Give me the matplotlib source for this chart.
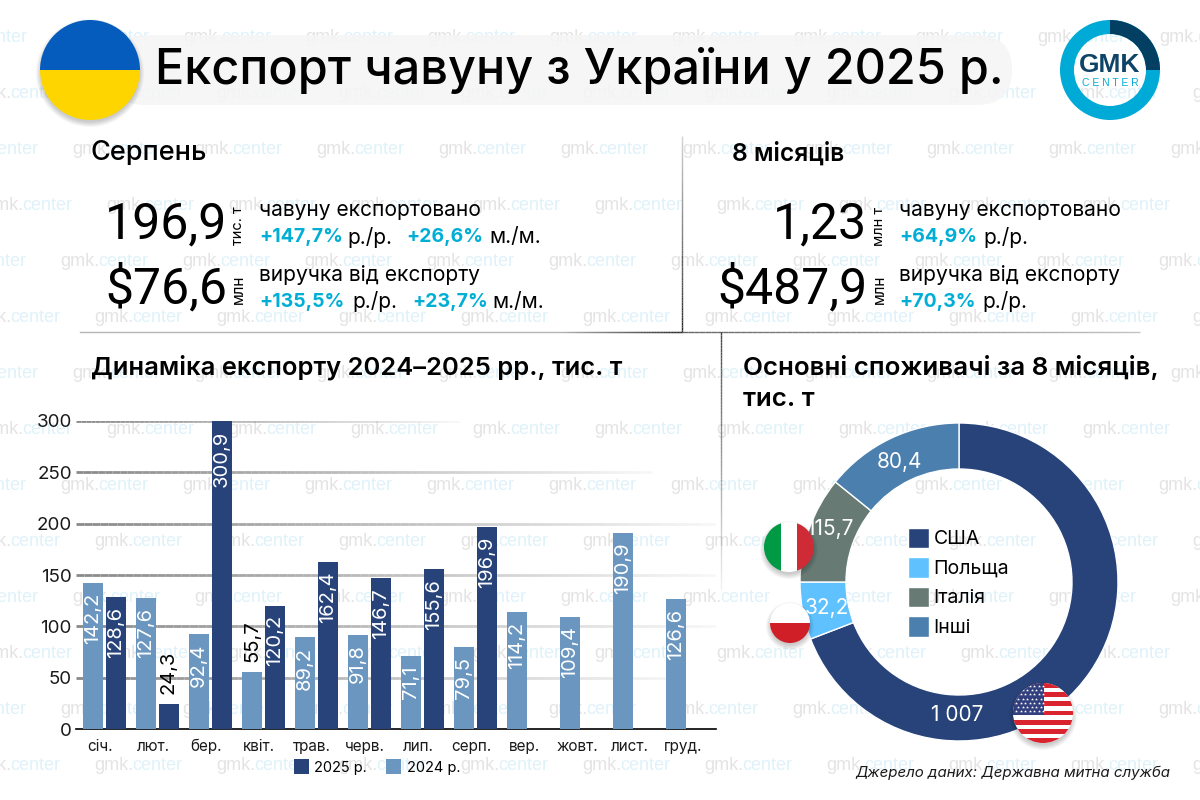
#!/usr/bin/env python3
# Експорт чавуну з України у 2025 р. - інфографіка GMK Center

import numpy as np
import matplotlib
matplotlib.use('Agg')
import matplotlib.pyplot as plt
from matplotlib.patches import Circle, Rectangle, FancyBboxPatch, Wedge
from matplotlib.collections import LineCollection

plt.rcParams['font.family'] = ['Inter', 'DejaVu Sans']

# Данi

months = ['січ.', 'лют.', 'бер.', 'квіт.', 'трав.', 'черв.', 'лип.', 'серп.',
          'вер.', 'жовт.', 'лист.', 'груд.']
export_2024 = [142.2, 127.6, 92.4, 55.7, 89.2, 91.8, 71.1, 79.5, 114.2, 109.4, 190.9, 126.6]
export_2025 = [128.6, 24.3, 300.9, 120.2, 162.4, 146.7, 155.6, 196.9]
y_ticks = [0, 50, 100, 150, 200, 250, 300]

consumers = ['США', 'Польща', 'Італія', 'Інші']
consumer_labels = ['1 007', '32,2', '115,7', '80,4']
# частки кiльця як на картинцi (вони не пропорцiйнi пiдписам)
consumer_arcs = [249, 21, 39, 51]

C_2025 = '#27437a'
C_2024 = '#6a96c0'
C_PIE = ['#27437a', '#5fc2ff', '#677b74', '#4a7fae']
C_CYAN = '#00aed6'


def fade_line(ax, x0, y0, x1, y1, color, lw, a0=1.0, a1=0.0, zorder=1, transform=None):
    # лiнiя, що плавно зникає
    t = np.linspace(0, 1, 80)
    xs = x0 + (x1 - x0) * t
    ys = y0 + (y1 - y0) * t
    segs = [[(xs[i], ys[i]), (xs[i + 1], ys[i + 1])] for i in range(79)]
    rgba = np.zeros((79, 4))
    rgba[:, :3] = matplotlib.colors.to_rgb(color)
    rgba[:, 3] = a0 + (a1 - a0) * t[:-1]
    lc = LineCollection(segs, colors=rgba, linewidths=lw, zorder=zorder, capstyle='butt',
                        transform=transform if transform is not None else ax.transData)
    ax.add_collection(lc)


def shadow(ax, x, y, r, zorder):
    for k in range(6):
        ax.add_patch(Circle((x, y + 3), r + 4 - k, color='k', alpha=0.035, lw=0, zorder=zorder))


def flag_clip(ax, x, y, r, zorder):
    clip = Circle((x, y), r, transform=ax.transData, fc='none', ec='none', zorder=zorder)
    ax.add_patch(clip)
    return clip


fig = plt.figure(figsize=(12, 8), dpi=100, facecolor='white')

# Фон у пiкселях

bg = fig.add_axes([0, 0, 1, 1], zorder=0)
bg.set_xlim(0, 1200)
bg.set_ylim(800, 0)
bg.axis('off')

# водянi знаки
wm_rows = [(37, 61), (93, 94), (149, 72), (205, 106), (261, 60), (317, 94), (373, 72),
           (429, 106), (485, 60), (541, 94), (597, 72), (653, 106), (709, 60), (765, 94)]
for wy, wx in wm_rows:
    for wi in range(-1, 10):
        gx = wx + 122 * wi
        bg.text(gx, wy, 'gmk.', fontsize=13, color='#e4e4e4', family='Liberation Sans',
                va='center', ha='left', zorder=0)
        bg.text(gx + 38.5, wy, 'center', fontsize=13, color='#dff2fa', family='Liberation Sans',
                va='center', ha='left', zorder=0)

bg.add_patch(FancyBboxPatch((110, 35), 902, 70, boxstyle='round,pad=0,rounding_size=35',
                            fc='#f5f5f5', ec='none', alpha=0.9, zorder=1))

# Графiк експорту

bar_left, bar_right, bar_top, bar_bottom = 76, 716, 421, 729
ax = fig.add_axes([bar_left / 1200, 1 - bar_bottom / 800,
                   (bar_right - bar_left) / 1200, (bar_bottom - bar_top) / 800], zorder=1)
ax.patch.set_alpha(0)
x = np.arange(len(months))
x_2025 = x[:len(export_2025)]
w = 0.377
off = 0.217
ax.bar(x - off, export_2024, w, color=C_2024, zorder=3, label='2024 р.')
ax.bar(x_2025 + off, export_2025, w, color=C_2025, zorder=3, label='2025 р.')
ax.set_xlim(-0.538, 11.54)
ax.set_ylim(0, 300)

fades = [0, 0.95, 1.0, 1.0, 1.0, 0.9, 0.6]
for yv, fd in zip(y_ticks, fades):
    if yv > 0:
        fade_line(ax, 0, yv, fd, yv, '#8a8a8a', 2, a0=1.0, a1=0.05, zorder=2,
                  transform=ax.get_yaxis_transform())

for xs, vals in ((x - off, export_2024), (x_2025 + off, export_2025)):
    for xv, val in zip(xs, vals):
        lab = f'{val:.1f}'.replace('.', ',')
        top = min(val, 300)
        if val < 60:
            ax.annotate(lab, (xv, top), xytext=(0, 7), textcoords='offset points', rotation=90,
                        ha='center', va='bottom', fontsize=14.5, color='black', zorder=5)
        else:
            ax.annotate(lab, (xv, top), xytext=(0, -7), textcoords='offset points', rotation=90,
                        ha='center', va='top', fontsize=14.5, color='white', zorder=5)

for s in ['top', 'right', 'left']:
    ax.spines[s].set_visible(False)
ax.spines['bottom'].set_linewidth(1.2)
ax.set_yticks(y_ticks)
ax.set_xticks(x - 0.08)
ax.set_xticklabels(months, fontsize=11, color='#1a1a1a')
ax.set_yticklabels([str(v) for v in y_ticks], fontsize=13.5, color='#1a1a1a')
ax.tick_params(axis='both', length=0)
ax.tick_params(axis='y', pad=3)
ax.tick_params(axis='x', pad=7)
handles, labels = ax.get_legend_handles_labels()
fig.legend(handles[::-1], labels[::-1], loc='center', bbox_to_anchor=(377 / 1200, 1 - 767 / 800),
           ncol=2, frameon=False, fontsize=10.5, handlelength=1.05, handleheight=1.2,
           handletextpad=0.35, columnspacing=1.3)

# Кiльце

R = 159
cx, cy = 959, 582
pax = fig.add_axes([(cx - R) / 1200, 1 - (cy + R) / 800, 2 * R / 1200, 2 * R / 800], zorder=1)
pax.patch.set_alpha(0)
wedges, _ = pax.pie(consumer_arcs, colors=C_PIE, startangle=90, counterclock=False, radius=1,
                    wedgeprops=dict(width=46 / 159, edgecolor='white', linewidth=1))
pax.set_xlim(-1, 1)
pax.set_ylim(-1, 1)
pax.legend(wedges, consumers, loc='center', bbox_to_anchor=(0.499, 0.499), frameon=False,
           fontsize=14, handlelength=1.05, handleheight=1.24, handletextpad=0.25,
           labelspacing=0.45, borderpad=0)

# Верхнiй шар: тексти i прапори

ov = fig.add_axes([0, 0, 1, 1], zorder=2)
ov.set_xlim(0, 1200)
ov.set_ylim(800, 0)
ov.axis('off')
ov.patch.set_alpha(0)


def txt(px, py, s, size, weight='normal', color='black', ha='left', va='center', **kw):
    return ov.text(px, py, s, fontsize=size, fontweight=weight, color=color, ha=ha, va=va, **kw)


txt(155, 70, 'Експорт чавуну з України у 2025 р.', 35, 'medium')
txt(91, 153, 'Серпень', 19.5, 'medium')
txt(732, 153, '8 місяців', 17.7, 'semibold')
txt(91, 367, 'Динаміка експорту 2024–2025 рр., тис. т', 18.4, 'semibold')
txt(743, 367, 'Основні споживачі за 8 місяців,', 18.7, 'semibold')
txt(743, 400, 'тис. т', 18.7, 'semibold')

big = dict(family='Roboto', va='baseline', ha='right')
txt(227, 238, '196,9', 36, **big)
txt(227, 303, '$76,6', 36, **big)
txt(867, 238, '1,23', 36, **big)
txt(867, 303, '$487,9', 36, **big)

txt(238, 226, 'тис. т', 10.5, rotation=90, ha='center')
txt(238, 289, 'млн', 11, rotation=90, ha='center')
txt(879, 226, 'млн т', 10.5, rotation=90, ha='center')
txt(879, 289, 'млн', 11, rotation=90, ha='center')

txt(259, 210, 'чавуну експортовано', 15.1)
txt(259, 275, 'виручка від експорту', 15.1)
txt(899, 210, 'чавуну експортовано', 15.1)
txt(899, 275, 'виручка від експорту', 15.1)

for px, py, s in [(259, 237, '+147,7%'), (406, 237, '+26,6%'), (259, 302, '+135,5%'),
                  (412, 302, '+23,7%'), (899, 237, '+64,9%'), (899, 302, '+70,3%')]:
    txt(px, py, s, 14, 'bold', C_CYAN)
for px, py, s in [(347, 237, 'р./р.'), (489, 237, 'м./м.'), (352, 302, 'р./р.'),
                  (492, 302, 'м./м.'), (983, 237, 'р./р.'), (982, 302, 'р./р.')]:
    txt(px, py, s, 15)

# роздiльники
fade_line(ov, 682, 136, 682, 332, '#222222', 1, a0=0.2, a1=1.0, zorder=1)
ov.plot([80, 682], [332, 332], color='#b5b5b5', lw=1, zorder=1)
fade_line(ov, 560, 332, 682, 332, '#222222', 1, a0=0.0, a1=1.0, zorder=1)
fade_line(ov, 682, 332, 1140, 332, '#555555', 1, a0=0.9, a1=0.35, zorder=1)
fade_line(ov, 721, 332, 721, 590, '#444444', 1, a0=1.0, a1=0.05, zorder=1)

# пiдписи кiльця (поверх прапорiв, як на оригiналi)
for (px, py), s in zip([(957, 715), (827, 608), (830, 529), (900, 462)], consumer_labels):
    txt(px, py, s, 15, color='white', ha='center', zorder=7)

txt(1170, 773, 'Джерело даних: Державна митна служба', 10.85, style='italic',
    color='#1a1a1a', ha='right')

# прапор України
shadow(ov, 90, 70, 50, 4)
clip = flag_clip(ov, 90, 70, 50, 5)
r1 = ov.add_patch(Rectangle((40, 20), 100, 50, fc='#055cbd', ec='none', zorder=5))
r2 = ov.add_patch(Rectangle((40, 70), 100, 50, fc='#ffd500', ec='none', zorder=5))
r1.set_clip_path(clip)
r2.set_clip_path(clip)

# логотип (вiсь y перевернута, тому темна чверть 270-360)
ov.add_patch(Wedge((1110, 70), 50, 0, 360, width=14, fc='#00aad6', ec='none', zorder=4))
ov.add_patch(Wedge((1110, 70), 50, 270, 360, width=14, fc='#023f63', ec='none', zorder=5))
txt(1110, 65, 'GMK', 19, 'bold', '#0e4468', ha='center', family='Liberation Sans', zorder=6)
txt(1110, 83, 'C E N T E R', 7.5, color=C_CYAN, ha='center', family='Liberation Sans', zorder=6)

# Iталiя
shadow(ov, 789, 547, 25, 4)
clip = flag_clip(ov, 789, 547, 25, 5)
for px, pw, pc in [(764, 17, '#009a44'), (781, 16, 'white'), (797, 17, '#ce2b37')]:
    ov.add_patch(Rectangle((px, 522), pw, 50, fc=pc, ec='none', zorder=5)).set_clip_path(clip)

# Польща
shadow(ov, 790, 623, 20, 4)
clip = flag_clip(ov, 790, 623, 20, 5)
ov.add_patch(Rectangle((770, 603), 40, 20, fc='white', ec='none', zorder=5)).set_clip_path(clip)
ov.add_patch(Rectangle((770, 623), 40, 20, fc='#d01f26', ec='none', zorder=5)).set_clip_path(clip)

# США
ux, uy, ur = 1043, 713, 30
shadow(ov, ux, uy, ur, 4)
clip = flag_clip(ov, ux, uy, ur, 5)
ov.add_patch(Rectangle((ux - ur, uy - ur), 2 * ur, 2 * ur, fc='white', ec='none', zorder=5)).set_clip_path(clip)
stripe = 2 * ur / 13
for k in range(0, 13, 2):
    ov.add_patch(Rectangle((ux - ur, uy - ur + k * stripe), 2 * ur, stripe, fc='#d9232e', ec='none',
                           zorder=5)).set_clip_path(clip)
ov.add_patch(Rectangle((ux - ur, uy - ur), ur + 1, 7 * stripe, fc='#33407f', ec='none', zorder=5)).set_clip_path(clip)
sx, sy = [], []
for r_i in range(7):
    for c_i in range(7):
        sx.append(ux - ur + 3 + c_i * 4.5 + (r_i % 2) * 2)
        sy.append(uy - ur + 3 + r_i * 4.2)
stars = ov.scatter(sx, sy, s=5, marker='*', color='white', lw=0, zorder=6)
stars.set_clip_path(clip)

plt.savefig('out.png', dpi=100)
